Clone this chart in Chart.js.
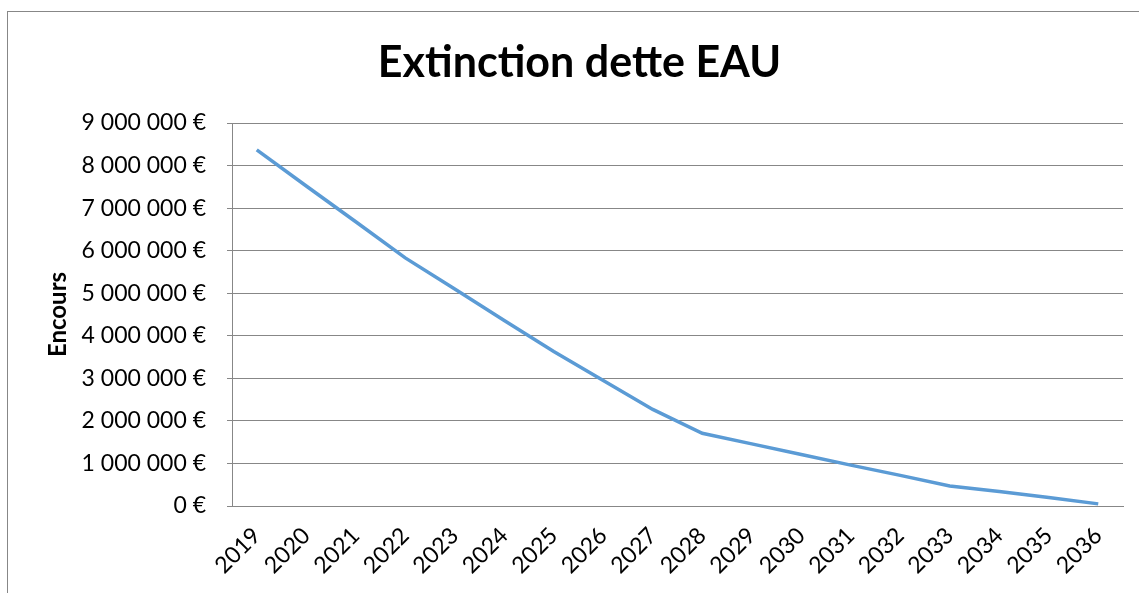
<!DOCTYPE html>
<html>
<head>
<meta charset="utf-8">
<script src="https://cdn.jsdelivr.net/npm/chart.js@4/dist/chart.umd.min.js"></script>
<style>
  html, body { margin:0; padding:0; background:#fff; overflow:hidden; }
  #wrap { position:relative; width:1139px; height:593px; }
  #frame { position:absolute; left:7px; top:11px; width:1200px; height:700px; border:1px solid #878787; box-sizing:border-box; }
  #wrap canvas { position:absolute; left:0; top:0; }
</style>
</head>
<body>
<div id="wrap">
  <div id="frame"></div>
  <canvas id="lineChart" width="1139" height="593"></canvas>
</div>
<script>
// années et encours (en euros)
var annees = ['2019','2020','2021','2022','2023','2024','2025','2026','2027','2028','2029','2030','2031','2032','2033','2034','2035','2036'];
var encours = [8370000,7520000,6680000,5830000,5100000,4360000,3630000,2950000,2270000,1710000,1460000,1210000,960000,720000,470000,340000,200000,50000];
var yMin = 0;
var yMax = 9000000;
var yStep = 1000000;

function euros(v){
    var s = Math.round(v).toString().replace(/\B(?=(\d{3})+(?!\d))/g,' ');
    return s + ' €';
}

var ctx = document.getElementById('lineChart');
var myChart = new Chart(ctx, {
    type: 'line',
    data: {
        labels: annees,
        datasets: [{
            data: encours,
            borderColor: '#5B9BD5',
            borderWidth: 3.5,
            pointRadius: 0,
            fill: false,
            tension: 0
        }]
    },
    options: {
        responsive: false,
        animation: false,
        layout: { padding: { left: 36, right: 16, top: 0, bottom: 0 } },
        plugins: {
            legend: { display: false },
            tooltip: { enabled: false },
            title: {
                display: true,
                text: 'Extinction dette EAU',
                color: '#000',
                font: { family: 'Lato', size: 43, weight: 'bold', lineHeight: 1.2 },
                padding: { top: 37, bottom: 34.4 }
            }
        },
        scales: {
            x: {
                offset: true,
                grid: { display: false, drawTicks: false },
                border: { color: '#878787', width: 1 },
                ticks: {
                    color: '#000',
                    font: { family: 'Lato', size: 23 },
                    minRotation: 45,
                    maxRotation: 45,
                    autoSkip: false,
                    padding: 16
                },
                afterFit: function(scale){ scale.height = 87; }
            },
            y: {
                min: yMin,
                max: yMax,
                grid: { color: '#878787', lineWidth: 1, drawTicks: true, tickLength: 5 },
                border: { color: '#878787', width: 1 },
                ticks: {
                    stepSize: yStep,
                    color: '#000',
                    font: { family: 'Lato', size: 23 },
                    padding: 21,
                    callback: function(v){ return euros(v); }
                },
                title: {
                    display: true,
                    text: 'Encours',
                    color: '#000',
                    font: { family: 'Lato', size: 24, weight: 'bold', lineHeight: 1.2 },
                    padding: { top: 8, bottom: 0 }
                },
                afterFit: function(scale){ scale.width = 196; }
            }
        }
    }
});
</script>
</body>
</html>
